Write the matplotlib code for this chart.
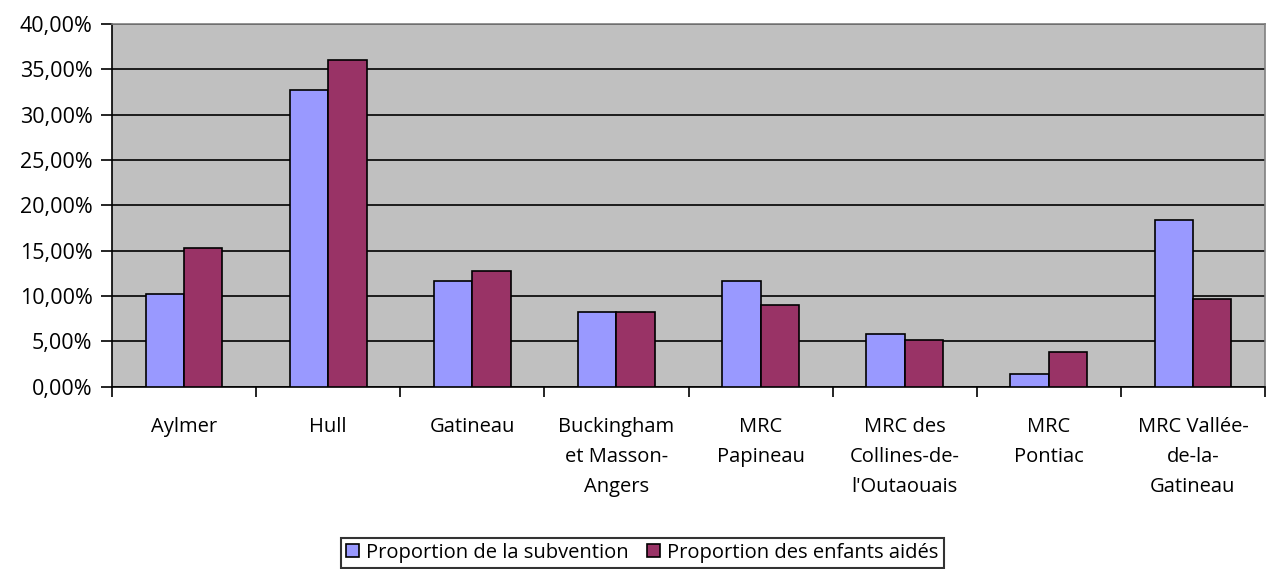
#!/usr/bin/env python3
import numpy as np
import matplotlib.pyplot as plt
from matplotlib.ticker import FuncFormatter, FixedLocator

categories = ["Aylmer", "Hull", "Gatineau", "Buckingham\net Masson-\nAngers",
              "MRC\nPapineau", "MRC des\nCollines-de-\nl'Outaouais", "MRC\nPontiac",
              "MRC Vallée-\nde-la-\nGatineau"]
subvention = [10.2, 32.75, 11.7, 8.2, 11.7, 5.8, 1.35, 18.35]
enfants = [15.25, 36.0, 12.8, 8.2, 9.05, 5.1, 3.8, 9.7]
label_sub = "Proportion de la subvention"
label_enf = "Proportion des enfants aidés"

plt.rcParams['font.family'] = ['Open Sans', 'DejaVu Sans']
FS = 14.5

fig = plt.figure(figsize=(12.85, 5.69), dpi=100)
ax = fig.add_axes([0.0872, 0.3204, 0.8972, 0.6374])
ax.set_facecolor("#c0c0c0")

x = np.arange(len(categories))
w = 0.266
ax.bar(x - w / 2, subvention, w, color="#9999ff", edgecolor="black", linewidth=1.2,
       label=label_sub, zorder=3)
ax.bar(x + w / 2, enfants, w, color="#993366", edgecolor="black", linewidth=1.2,
       label=label_enf, zorder=3)

ax.set_xlim(-0.5, len(categories) - 0.5)
ax.set_ylim(0, 40)
ax.set_yticks(np.arange(0, 41, 5))
ax.yaxis.set_major_formatter(FuncFormatter(lambda v, p: f"{v:.2f}%".replace(".", ",")))
ax.grid(axis="y", color="black", linewidth=1.2, zorder=1)

# ticks between categories, labels centered
ax.xaxis.set_major_locator(FixedLocator(np.arange(-0.5, len(categories), 1)))
ax.xaxis.set_major_formatter(FuncFormatter(lambda v, p: ""))
ax.set_xticks(x, minor=True)
ax.set_xticklabels(categories, minor=True, fontsize=FS, linespacing=1.65, va="top")
ax.tick_params(axis="x", which="minor", length=0, pad=22)
ax.tick_params(axis="x", which="major", length=7, width=1.2, direction="out")
ax.tick_params(axis="y", length=8, width=1.2, direction="out", labelsize=15.5, pad=6)

for s in ["left", "bottom"]:
    ax.spines[s].set_color("black")
    ax.spines[s].set_linewidth(1.2)
for s in ["top", "right"]:
    ax.spines[s].set_color("#808080")
    ax.spines[s].set_linewidth(1.2)

leg = fig.legend(loc="lower center", bbox_to_anchor=(0.5, 0.002), ncol=2, fontsize=FS,
                 frameon=True, fancybox=False, edgecolor="black", handlelength=0.65,
                 handleheight=0.65, handletextpad=0.35, columnspacing=0.9,
                 borderpad=0.25, borderaxespad=0)
leg.get_frame().set_linewidth(1.5)

plt.savefig("out.png", dpi=100)
